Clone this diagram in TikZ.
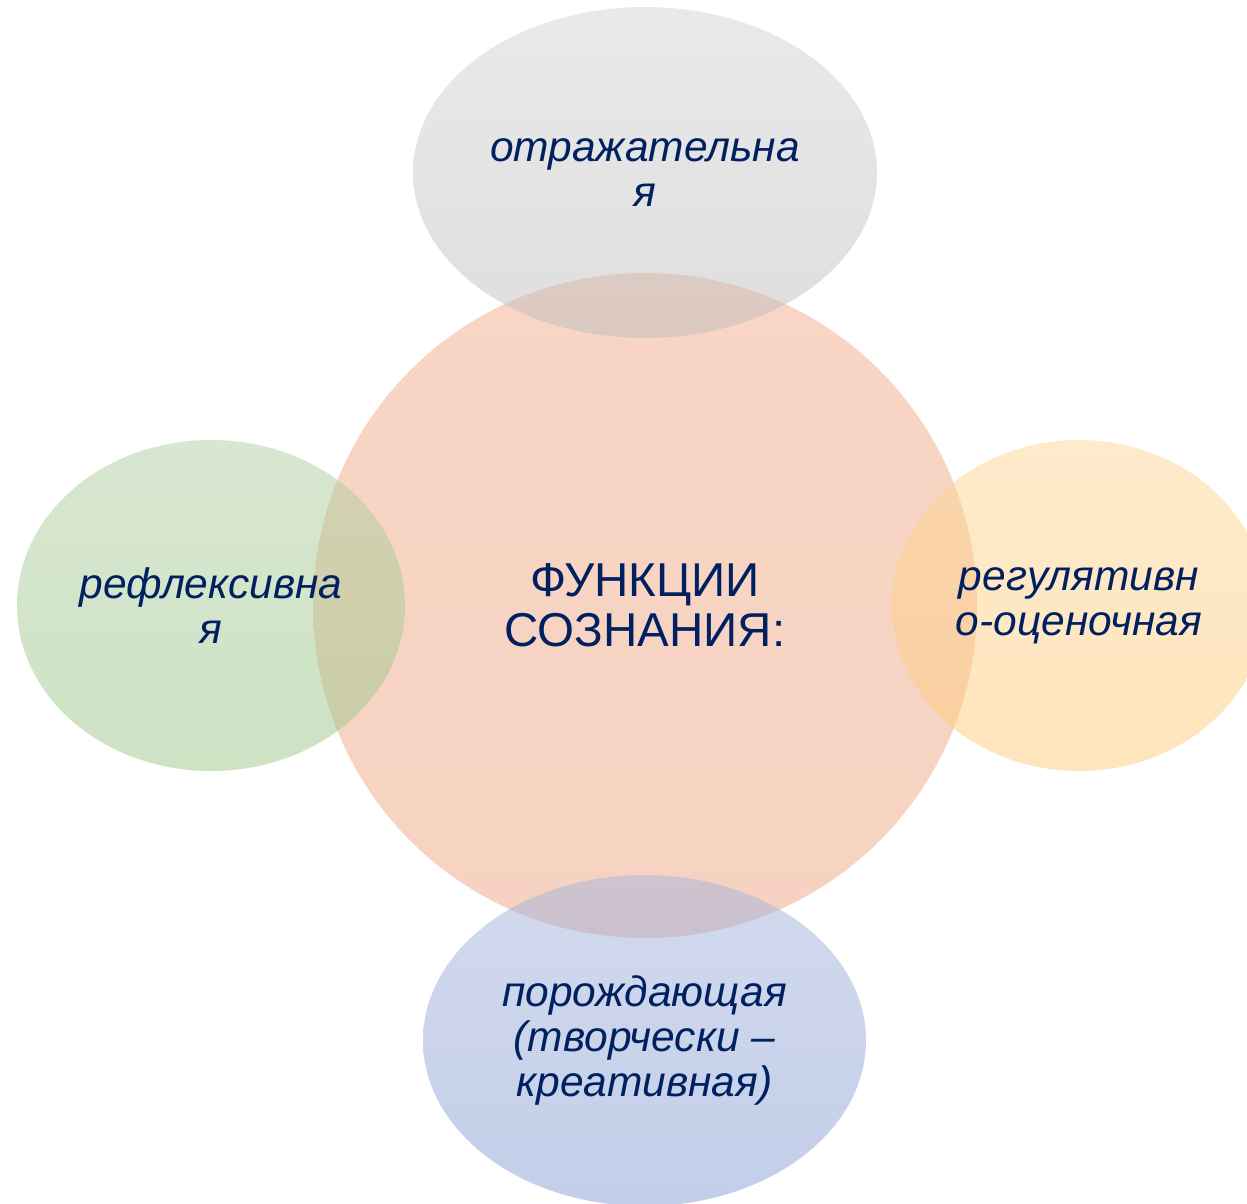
\documentclass[tikz,border=0pt]{standalone}
\usepackage{fontspec}
\setmainfont{Liberation Sans}
\usetikzlibrary{shapes.geometric}
\definecolor{fnavy}{HTML}{002060}

\begin{document}
\begin{tikzpicture}[
        x=1pt,y=-1pt,
        blob/.style={ellipse,inner sep=0pt,align=center,fill opacity=0.5,text opacity=1,text=fnavy,
          font=\fontsize{42.5}{45}\selectfont\itshape},
        side/.style={blob,minimum width=#1,minimum height=331pt}
      ]
      \useasboundingbox (0,0) rectangle (1247,1203);
      \clip (0,0) rectangle (1247,1203);
      \node[blob,top color={rgb,255:red,241;green,171;blue,139},bottom color={rgb,255:red,240;green,166;blue,133},
        minimum width=664pt,minimum height=665pt,font=\fontsize{47.5}{50}\selectfont] (core) at (645,605.5) {ФУНКЦИИ\\СОЗНАНИЯ:};
      \node[side=464pt,top color={rgb,255:red,212;green,212;blue,212},bottom color={rgb,255:red,190;green,190;blue,190}] (refl) at (645,172.5) {отражательна\\я};
      \node[side=388pt,top color={rgb,255:red,177;green,207;blue,161},bottom color={rgb,255:red,155;green,199;blue,137}] (rflx) at (211,605.5) {рефлексивна\\я};
      \node[side=374pt,top color={rgb,255:red,253;green,215;blue,151},bottom color={rgb,255:red,253;green,203;blue,123}] (regl) at (1079,605.5) {регулятивн\\о-оценочная};
      \node[side=443pt,top color={rgb,255:red,165;green,181;blue,221},bottom color={rgb,255:red,135;green,157;blue,211}] (gen) at (644.5,1040.5) {порождающая\\(творчески –\\креативная)};
    \end{tikzpicture}
\end{document}
